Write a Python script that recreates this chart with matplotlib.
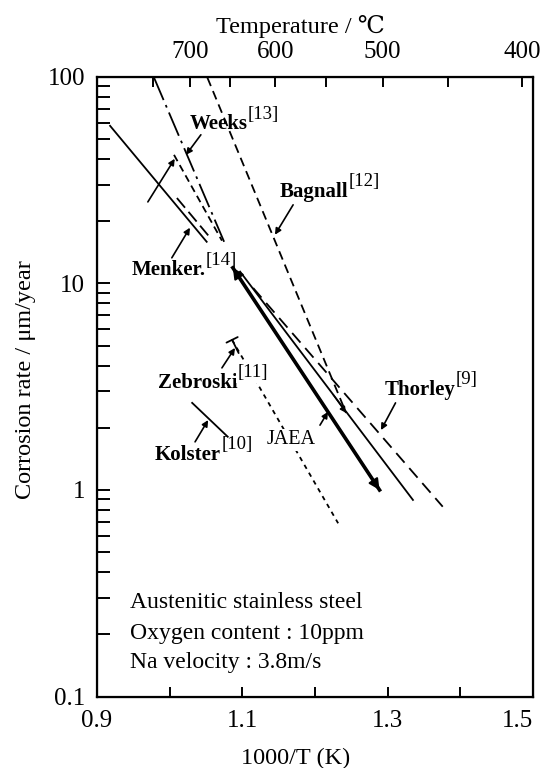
import numpy as np
import matplotlib
matplotlib.use("Agg")
import matplotlib.pyplot as plt
from matplotlib.ticker import LogLocator, NullFormatter, FixedLocator

plt.rcParams['font.family'] = ['Liberation Serif', 'DejaVu Serif']
plt.rcParams['mathtext.fontset'] = 'stix'

# corrosion rate lines, 1000/T (K) vs um/year, end points of each fit
weeks_x = [0.978, 1.075]
weeks_y = [100.0, 15.9]
menker_x = [0.918, 1.051]
menker_y = [57.9, 15.9]
menker2_x = [1.010, 1.056]
menker2_y = [25.9, 16.6]
other_x = [1.006, 1.072]
other_y = [41.9, 16.1]
bagnall_x = [1.052, 1.243]
bagnall_y = [99.0, 2.36]
thorley_x = [1.115, 1.376]
thorley_y = [9.5, 0.83]
jaea_x = [1.087, 1.289]
jaea_y = [11.9, 1.0]
jaea2_x = [1.097, 1.335]
jaea2_y = [11.4, 0.895]
zebroski_x = [1.086, 1.232]
zebroski_y = [5.33, 0.69]
kolster_x = [1.031, 1.080]
kolster_y = [2.64, 1.81]

temps_c = [750, 700, 650, 600, 550, 500, 450, 400]
temp_labels = {700: '700', 600: '600', 500: '500', 400: '400'}

fig = plt.figure(figsize=(5.42, 7.68), dpi=100)
ax = fig.add_axes([0.179, 0.093, 0.804, 0.807])

ax.plot(weeks_x, weeks_y, color='k', lw=1.3, dashes=(14, 3, 1.5, 3))
ax.plot(menker_x, menker_y, color='k', lw=1.3)
ax.plot(menker2_x, menker2_y, color='k', lw=1.3, dashes=(7, 3))
ax.plot(other_x, other_y, color='k', lw=1.3, dashes=(4, 2.5))
ax.plot(bagnall_x, bagnall_y, color='k', lw=1.3, dashes=(5, 3))
ax.plot(thorley_x, thorley_y, color='k', lw=1.3, dashes=(7, 4))
ax.plot(jaea_x, jaea_y, color='k', lw=2.6)
ax.plot(jaea2_x, jaea2_y, color='k', lw=1.3)
ax.plot(zebroski_x, zebroski_y, color='k', lw=1.3, dashes=(2.5, 2.5))
ax.plot(kolster_x, kolster_y, color='k', lw=1.3)

# JAEA data range: heads on both ends of the thick line
ax.annotate('', xy=(jaea_x[0], jaea_y[0]), xytext=(jaea_x[1], jaea_y[1]),
            arrowprops=dict(arrowstyle='<|-|>', color='k', lw=1.5,
                            mutation_scale=16, shrinkA=0, shrinkB=0))
# Bagnall end marker
ax.annotate('', xy=(bagnall_x[1], bagnall_y[1]), xytext=(1.225, 2.9),
            arrowprops=dict(arrowstyle='-|>', color='k', lw=1.0,
                            mutation_scale=9, shrinkA=0, shrinkB=0))
# bar at the start of the Zebroski line
ax.annotate('', xy=(1.095, 4.6), xytext=(zebroski_x[0], zebroski_y[0]),
            arrowprops=dict(arrowstyle=']-, widthA=0.45, lengthA=0', color='k',
                            lw=1.3, shrinkA=0, shrinkB=0))

# reference labels
def label(x, y, name, ref=None, bg=False):
    t = ax.text(x, y, name, fontsize=15, fontweight='bold', ha='left', va='center')
    if ref:
        r = ax.annotate(ref, xy=(1.0, 1.0), xycoords=t, fontsize=13.5,
                        ha='left', va='center')
        if bg:
            r.set_bbox(dict(facecolor='white', edgecolor='none', pad=1))
    return t

label(1.028, 59.0, 'Weeks', '[13]')
label(1.152, 27.7, 'Bagnall', '[12]')
label(0.948, 11.6, 'Menker.', '[14]')
label(0.984, 3.30, 'Zebroski', '[11]', bg=True)
label(0.980, 1.48, 'Kolster', '[10]')
label(1.296, 3.05, 'Thorley', '[9]')
ax.text(1.134, 1.75, 'JAEA', fontsize=14.5, ha='left', va='center',
        bbox=dict(facecolor='white', edgecolor='none', pad=1))

arrows = [
    ((1.043, 52.4), (1.0225, 41.9)),
    ((1.170, 24.0), (1.145, 17.2)),
    ((1.003, 13.3), (1.028, 18.6)),
    ((0.970, 24.8), (1.007, 40.1)),
    ((1.072, 3.90), (1.090, 4.87)),
    ((1.035, 1.71), (1.053, 2.18)),
    ((1.207, 2.06), (1.218, 2.39)),
    ((1.311, 2.64), (1.291, 1.95)),
]
for tail, head in arrows:
    ax.annotate('', xy=head, xytext=tail,
                arrowprops=dict(arrowstyle='-|>', color='k', lw=1.2,
                                mutation_scale=9, shrinkA=0, shrinkB=0))

ax.text(0.076, 0.1525, 'Austenitic stainless steel', transform=ax.transAxes,
        fontsize=17, va='center')
ax.text(0.076, 0.1025, 'Oxygen content : 10ppm', transform=ax.transAxes,
        fontsize=17, va='center')
ax.text(0.076, 0.0557, 'Na velocity : 3.8m/s', transform=ax.transAxes,
        fontsize=17, va='center')

ax.set_yscale('log')
ax.set_xlim(0.9, 1.5)
ax.set_ylim(0.1, 100)
ax.set_xticks(np.arange(0.9, 1.51, 0.1))
ax.set_xticklabels(['0.9', '', '1.1', '', '1.3', '', '1.5'])
ax.get_xticklabels()[-1].set_horizontalalignment('right')
ax.yaxis.set_major_locator(FixedLocator([0.1, 1, 10, 100]))
ax.set_yticklabels(['0.1', '1', '10', '100'])
ax.yaxis.set_minor_locator(LogLocator(base=10, subs=np.arange(2, 10)))
ax.yaxis.set_minor_formatter(NullFormatter())
ax.tick_params(axis='both', which='both', direction='in', labelsize=18,
               top=False, right=False, width=1.4)
ax.tick_params(axis='y', which='both', length=9, pad=8.5)
ax.tick_params(axis='x', length=7, pad=10)
ax.set_xlabel('1000/T (K)', fontsize=17.5)
ax.xaxis.set_label_coords(0.456, -0.083)
ax.set_ylabel('Corrosion rate / μm/year', fontsize=17.5)
ax.yaxis.set_label_coords(-0.14, 0.511)
for s in ax.spines.values():
    s.set_linewidth(1.6)

# temperature axis on top
ax2 = ax.twiny()
ax2.set_xlim(ax.get_xlim())
ax2.set_xticks([1000.0 / (t + 273.15) for t in temps_c])
ax2.set_xticklabels([temp_labels.get(t, '') for t in temps_c])
ax2.tick_params(axis='x', direction='in', length=7, width=1.4, labelsize=18, pad=10)
ax2.set_xlabel('Temperature / ℃', fontsize=17.5)
ax2.xaxis.set_label_coords(0.466, 1.071)

fig.savefig('out.png', dpi=100)
